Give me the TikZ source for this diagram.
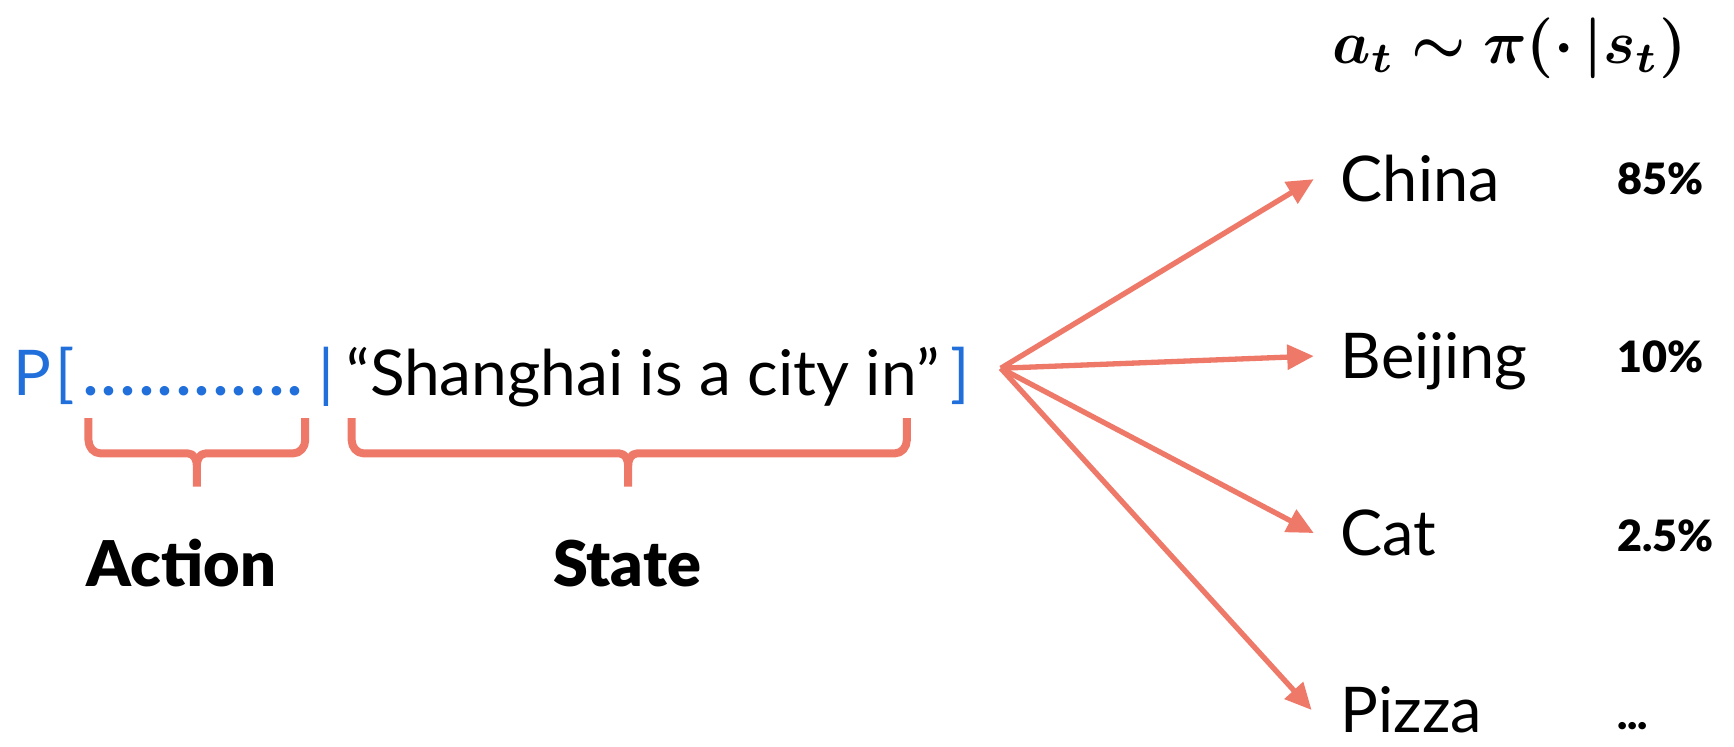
\documentclass[tikz,border=0pt]{standalone}
\usepackage{fontspec}
\setmainfont{Lato}
\newfontfamily\blackfont{Lato Black}
\usepackage{amsmath}
\usepackage{bm}
\usetikzlibrary{arrows.meta}
\definecolor{coral}{RGB}{238,121,105}
\definecolor{pblue}{RGB}{33,111,219}
\tikzset{
  word/.style={inner sep=0pt, anchor=base west, font=\fontsize{28.5}{30}\selectfont},
  prob/.style={inner sep=0pt, anchor=base west, font=\blackfont\fontsize{19.5}{22}\selectfont},
  lbl/.style={inner sep=0pt, anchor=base, font=\blackfont\fontsize{28.5}{32}\selectfont},
  arr/.style={draw=coral, line width=2.4pt, -{Triangle[length=12pt,width=11pt]}},
  bracestyle/.style={draw=coral, line width=3.6pt, line join=round},
}
\begin{document}
\begin{tikzpicture}[x=0.5pt,y=-0.5pt]
\useasboundingbox (0,0) rectangle (1568,675);
% input line
\node[word, text=pblue] (P) at (12,358) {P};
\node[word, text=pblue] (lb) at (50,358) {[};
\node[word, text=pblue] (dots) at (75,358) {\hbox to 99pt{\bfseries.\hfil.\hfil.\hfil.\hfil.\hfil.\hfil.\hfil.\hfil.\hfil.\hfil.\hfil.}};
\node[word, text=pblue] (bar) at (288,358) {|};
\node[word] (state) at (313,358) {\resizebox{268pt}{\height}{“Shanghai is a city in”}};
\node[word, text=pblue] (rb) at (859,358) {]};
% braces
\draw[bracestyle] (80,378) -- (80,398) to[out=-90,in=180] (91,410) -- (170,410) to[out=0,in=90] (178,421) -- (178,440);
\draw[bracestyle] (276,378) -- (276,398) to[out=-90,in=0] (265,410) -- (186,410) to[out=180,in=90] (178,421);
\draw[bracestyle] (318,378) -- (318,398) to[out=-90,in=180] (329,410) -- (560,410) to[out=0,in=90] (568,421) -- (568,440);
\draw[bracestyle] (820,378) -- (820,398) to[out=-90,in=0] (809,410) -- (576,410) to[out=180,in=90] (568,421);
\node[lbl] (action) at (164,530) {Action};
\node[lbl] (statelbl) at (567,530) {State};
% title
\node[inner sep=0pt, anchor=base] (title) at (1365,57) {\resizebox{160pt}{!}{$\bm{a_t \sim \pi(\cdot\,|s_t)}$}};
% outputs
\coordinate (src) at (905,333);
\node[word] (china) at (1212,182) {China};
\node[word] (beijing) at (1212,342) {Beijing};
\node[word] (cat) at (1212,502) {Cat};
\node[word] (pizza) at (1212,662) {Pizza};
\node[prob] (p1) at (1462,176) {85\%};
\node[prob] (p2) at (1462,337) {10\%};
\node[prob] (p3) at (1462,499) {2.5\%};
\node[prob] (p4) at (1462,660) {...};
\draw[arr] (src) -- ([xshift=-12pt,yshift=10pt]china.base west);
\draw[arr] (src) -- ([xshift=-12pt,yshift=10pt]beijing.base west);
\draw[arr] (src) -- ([xshift=-12pt,yshift=10pt]cat.base west);
\draw[arr] (src) -- ([xshift=-13pt,yshift=10pt]pizza.base west);
\end{tikzpicture}
\end{document}
